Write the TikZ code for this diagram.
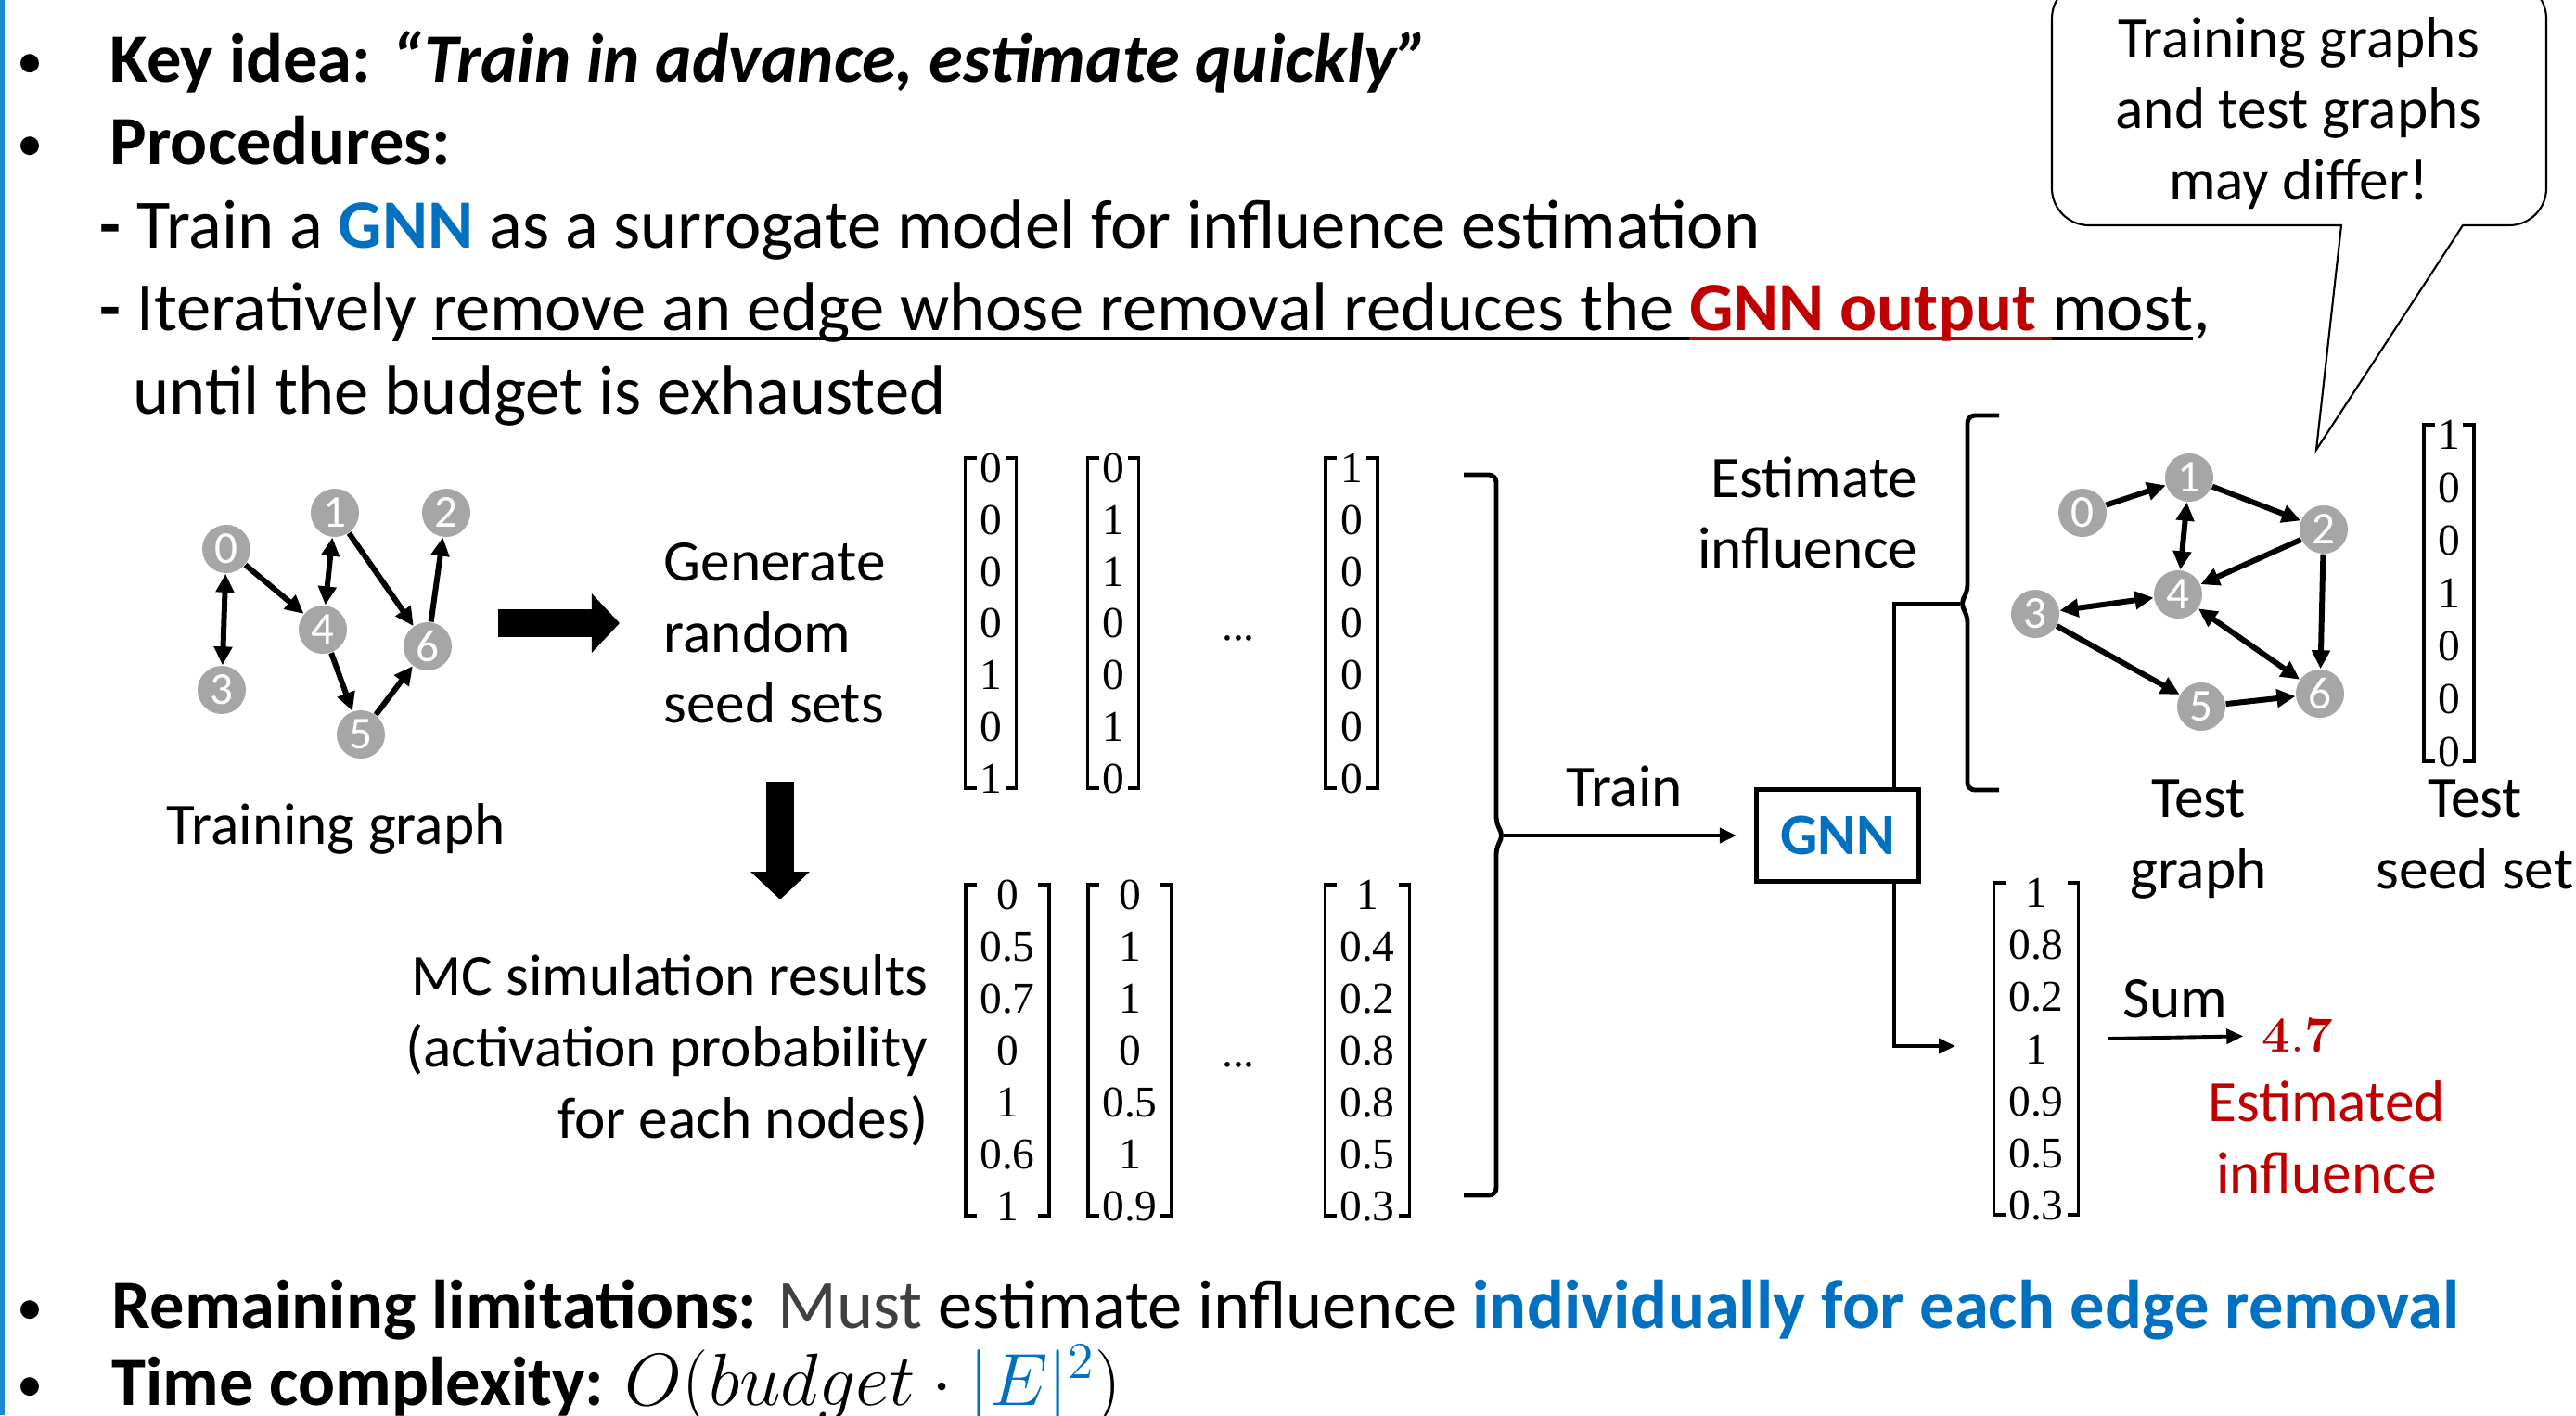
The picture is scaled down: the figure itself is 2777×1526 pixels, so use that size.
\RequirePackage{fix-cm}
\documentclass[tikz,border=0pt]{standalone}
\usepackage[no-math]{fontspec}
\setmainfont{Carlito}
\newfontfamily\numfont{Liberation Serif}
\usetikzlibrary{arrows.meta,positioning}

\definecolor{gnnblue}{HTML}{0070C0}
\definecolor{outred}{HTML}{C00000}
\definecolor{vertexgray}{HTML}{A6A6A6}
\definecolor{mustgray}{HTML}{404040}
\definecolor{sidebar}{HTML}{1A88CC}

\newsavebox{\ulbox}
\newcommand{\ul}[1]{\sbox{\ulbox}{#1}\rlap{\rule[-3.1pt]{\wd\ulbox}{1.1pt}}\usebox{\ulbox}}

\tikzset{
  slidetext/.style={anchor=base west, inner sep=0pt, font=\fontsize{21.2}{25}\selectfont},
  bulletdot/.style={anchor=base, inner sep=0pt, font=\fontsize{16}{20}\selectfont},
  figtext/.style={inner sep=0pt, font=\fontsize{18}{21.8}\selectfont},
  vertex/.style={circle, fill=vertexgray, text=white, minimum size=0.52cm, inner sep=0pt, font=\fontsize{14}{14}\selectfont},
  link/.style={line width=1.7pt, -{Triangle[length=0.2cm,width=0.19cm]}},
  bilink/.style={line width=1.7pt, {Triangle[length=0.2cm,width=0.19cm]}-{Triangle[length=0.2cm,width=0.19cm]}},
  entry/.style={inner sep=0pt, font=\fontsize{13.5}{13.5}\selectfont\numfont},
  bracket/.style={line width=1.1pt},
  brace/.style={line width=1.4pt, rounded corners=0.08cm},
  conn/.style={line width=1.1pt},
  connarrow/.style={line width=1.1pt, -{Triangle[length=0.18cm,width=0.16cm]}},
  bigarrow/.style={line width=0.3cm, -{Triangle[length=0.3cm,width=0.62cm]}},
  gnnbox/.style={draw, line width=1.4pt, minimum width=1.75cm, minimum height=0.99cm, inner sep=0pt, font=\fontsize{18}{18}\selectfont\bfseries, text=gnnblue},
  bubble/.style={line width=0.6pt},
}

\begin{document}
\begin{tikzpicture}[x=0.01cm, y=-0.01cm]
  \useasboundingbox (0,0) rectangle (2777,1526);
  \fill[sidebar] (0,0) rectangle (5,1526);

  % Bullet list on top
  \node[bulletdot] (dot1) at (33,84) {\textbullet};
  \node[slidetext] (keyidea) at (118,88) {\textbf{Key idea: \textit{“Train in advance, estimate quickly”}}};
  \node[bulletdot] (dot2) at (33,173) {\textbullet};
  \node[slidetext] (proc) at (118,177) {\textbf{Procedures:}};
  \node[slidetext] (step1) at (107,267) {\textbf{-} Train a \textcolor{gnnblue}{\textbf{GNN}} as a surrogate model for influence estimation};
  \node[slidetext] (step2) at (107,356) {\textbf{-} Iteratively \ul{remove an edge whose removal reduces the }\textcolor{outred}{\ul{\textbf{GNN output} }}\ul{most},};
  \node[slidetext] (step2b) at (143,446) {until the budget is exhausted};

  % Callout
  \draw[bubble] (2524,243) [rounded corners=0.4cm] -- (2212,243) -- (2212,-20) -- (2745,-20) -- (2745,243) [sharp corners] -- (2655,243) -- (2497,485) -- cycle;
  \node[figtext, align=center] (bubbletxt) at (2478,122) {Training graphs\\and test graphs\\may differ!};

  % Training graph
  \node[vertex] (a0) at (244,592) {0};
  \node[vertex] (a1) at (361,553) {1};
  \node[vertex] (a2) at (481,553) {2};
  \node[vertex] (a3) at (239,744) {3};
  \node[vertex] (a4) at (348,679) {4};
  \node[vertex] (a5) at (389,792) {5};
  \node[vertex] (a6) at (461,697) {6};
  \draw[bilink] (a0) -- (a3);
  \draw[link] (a0) -- (a4);
  \draw[bilink] (a1) -- (a4);
  \draw[link] (a1) -- (a6);
  \draw[link] (a4) -- (a5);
  \draw[link] (a5) -- (a6);
  \draw[link] (a6) -- (a2);
  \node[figtext, anchor=base] (trainglbl) at (362,910) {Training graph};

  % Big arrows
  \coordinate (ra1) at (537,672);
  \coordinate (ra2) at (668,672);
  \draw[bigarrow] (ra1) -- (ra2);
  \coordinate (da1) at (841,843);
  \coordinate (da2) at (841,970);
  \draw[bigarrow] (da1) -- (da2);
  \node[figtext, align=left, anchor=west] (genlbl) at (715,683) {Generate\\random\\seed sets};
  \node[figtext, align=right, anchor=east] (mclbl) at (1001,1133) {MC simulation results\\(activation probability\\for each nodes)};

  % Vectors
  \foreach \cx/\hw/\ry/\dy/\vals [count=\m] in {
      1068/27.5/505/55.8/{0,0,0,0,1,0,1},
      1200/27.5/505/55.8/{0,1,1,0,0,1,0},
      1457/28/505/55.8/{1,0,0,0,0,0,0},
      1086/45/965/56/{0,0.5,0.7,0,1,0.6,1},
      1218/45/965/56/{0,1,1,0,0.5,1,0.9},
      1474/45.5/965/56/{1,0.4,0.2,0.8,0.8,0.5,0.3},
      2195/45.5/963/56.2/{1,0.8,0.2,1,0.9,0.5,0.3},
      2640/27/469/57/{1,0,0,1,0,0,0}} {
    \draw[bracket] ({\cx-\hw+12},{\ry-11}) -- ({\cx-\hw},{\ry-11}) -- ({\cx-\hw},{\ry+6*\dy+10}) -- ({\cx-\hw+12},{\ry+6*\dy+10});
    \draw[bracket] ({\cx+\hw-12},{\ry-11}) -- ({\cx+\hw},{\ry-11}) -- ({\cx+\hw},{\ry+6*\dy+10}) -- ({\cx+\hw-12},{\ry+6*\dy+10});
    \foreach \v [count=\i] in \vals
      \node[entry] (m\m-\i) at (\cx,{\ry+(\i-1)*\dy}) {\v};
  }
  \node[entry, anchor=base] (dots1) at (1335,690) {...};
  \node[entry, anchor=base] (dots2) at (1335,1150) {...};

  % Training
  \draw[brace] (1578,512) -- (1613,512) -- (1613,889) -- (1621,901) -- (1613,913) -- (1613,1289) -- (1578,1289);
  \coordinate (trainfrom) at (1621,901);
  \node[gnnbox] (gnn) at (1981,901) {GNN};
  \draw[connarrow, shorten >=0.19cm] (trainfrom) -- (gnn.west);
  \node[figtext, anchor=base] (trainlbl) at (1751,869) {Train};

  % Estimation
  \draw[brace] (2155,448) -- (2121,448) -- (2121,639) -- (2113,651) -- (2121,663) -- (2121,852) -- (2155,852);
  \coordinate (estto) at (2113,651);
  \coordinate (gup) at (2042,651);
  \draw[conn] (gnn.north -| gup) -- (gup) -- (estto);
  \node[figtext, align=right, anchor=east] (estlbl) at (2068,553) {Estimate\\influence};

  % Test graph
  \node[vertex] (t0) at (2245,553) {0};
  \node[vertex] (t1) at (2360,515) {1};
  \node[vertex] (t2) at (2505,571) {2};
  \node[vertex] (t3) at (2194,662) {3};
  \node[vertex] (t4) at (2348,641) {4};
  \node[vertex] (t5) at (2373,762) {5};
  \node[vertex] (t6) at (2501,748) {6};
  \draw[link] (t0) -- (t1);
  \draw[link] (t1) -- (t2);
  \draw[bilink] (t1) -- (t4);
  \draw[link] (t2) -- (t4);
  \draw[link] (t2) -- (t6);
  \draw[bilink] (t3) -- (t4);
  \draw[link] (t3) -- (t5);
  \draw[link] (t5) -- (t6);
  \draw[bilink] (t4) -- (t6);
  \node[figtext, align=center] (testglbl) at (2370,905) {Test\\graph};
  \node[figtext, align=center] (testslbl) at (2668,900) {Test\\seed set};

  % Output
  \coordinate (gdown) at (2042,1128);
  \coordinate (outin) at (2108,1128);
  \draw[connarrow] (gnn.south -| gdown) -- (gdown) -- (outin);
  \coordinate (sumfrom) at (2273,1120);
  \node[inner sep=0pt, text=outred, font=\fontsize{15.5}{15.5}\selectfont] (val) at (2477,1117) {$\mathbf{4.7}$};
  \draw[connarrow, shorten >=0.2cm] (sumfrom) -- (val.west);
  \node[figtext, anchor=base] (sumlbl) at (2345,1097) {Sum};
  \node[figtext, text=outred, align=center] (estval) at (2508,1226) {Estimated\\influence};

  % Bullet list at bottom
  \node[bulletdot] (dot3) at (33,1428) {\textbullet};
  \node[slidetext] (limits) at (120,1432) {\textbf{Remaining limitations:} \textcolor{mustgray}{Must} estimate influence \textcolor{gnnblue}{\textbf{individually for each edge removal}}};
  \node[bulletdot] (dot4) at (33,1511) {\textbullet};
  \node[slidetext] (cplx) at (120,1515) {\textbf{Time complexity:} {\fontsize{22.7}{25}\selectfont$O(budget\cdot\textcolor{gnnblue}{|E|^{2}})$}};
\end{tikzpicture}
\end{document}
